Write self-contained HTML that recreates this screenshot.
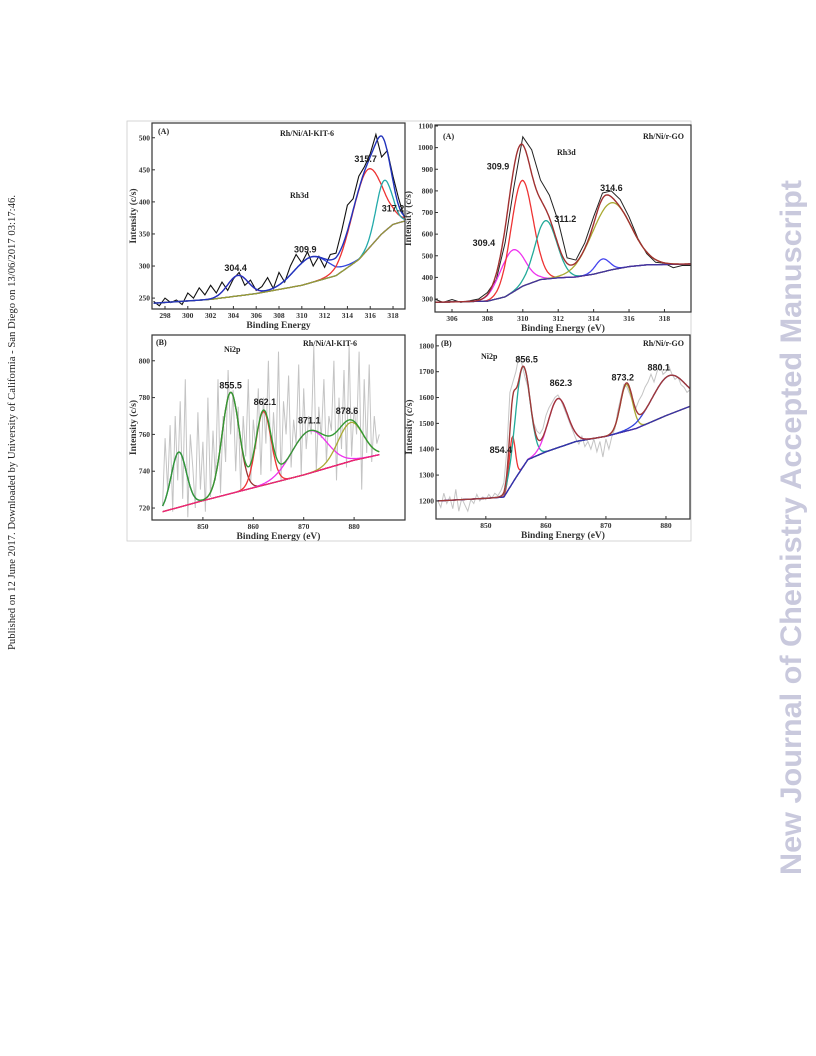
<!DOCTYPE html>
<html><head><meta charset="utf-8">
<style>
html,body{margin:0;padding:0;background:#fff;}
#root{position:relative;width:816px;height:1056px;overflow:hidden;}
svg text{font-family:"Liberation Serif",serif;}
</style></head>
<body><div id="root">
<svg id="fig" width="816" height="1056" viewBox="0 0 816 1056">
<text transform="translate(15,650) rotate(-90)" font-size="10" fill="#222" textLength="455" lengthAdjust="spacingAndGlyphs">Published on 12 June 2017. Downloaded by University of California - San Diego on 13/06/2017 03:17:46.</text>
<text transform="translate(801,875) rotate(-90)" font-size="30" font-weight="bold" fill="#c9c9dd" style="font-family:'Liberation Sans',sans-serif" textLength="695" lengthAdjust="spacingAndGlyphs">New Journal of Chemistry Accepted Manuscript</text>
<rect x="127" y="121" width="564" height="420" fill="none" stroke="#ccc" stroke-width="0.8"/>
<g id="panels"></g>
</svg>
</div>
<script>
// ---------- Panel A1: Rh3d Rh/Ni/Al-KIT-6 ----------
const a1RawX = [297,297.5,298,298.5,299,299.5,300,300.5,301,301.5,302,302.5,303,303.5,304,304.5,305,305.5,306,306.5,307,307.5,308,308.5,309,309.5,310,310.5,311,311.5,312,312.5,313,313.5,314,314.5,315,315.5,316,316.5,317,317.5,318,318.5,319];
const a1RawY = [245,238,250,243,247,240,258,250,266,255,270,258,275,262,280,290,270,278,262,268,282,265,290,275,300,318,305,322,300,315,298,318,320,355,395,405,440,455,475,505,470,480,440,405,375];
const a1BgX = [297,302,306,310,313,315,316,317,318,319];
const a1BgY = [242,248,257,270,285,310,330,350,365,370];
const a1Centers = [304.4,310.8,315.7,317.2];
const a1Heights = [32,40,125,80];
const a1Sigmas = [0.9,1.5,1.3,0.7];
const a1Colors = ['#cc33cc','#3344dd','#ee3333','#22aaaa'];
const a1XTicks = [298,300,302,304,306,308,310,312,314,316,318];
const a1YTicks = [250,300,350,400,450,500];
const a1PeakLabels = ['304.4','309.9','315.7','317.2'];
const a1PeakLabelX = [304.2,310.3,315.6,318.0];
const a1PeakLabelY = [292,321,462,385];

// ---------- Panel A2: Rh3d Rh/Ni/r-GO ----------
const a2RawX = [305,305.5,306,306.5,307,307.5,308,308.5,309,309.5,310,310.5,311,311.5,312,312.5,313,313.5,314,314.5,315,315.5,316,316.5,317,317.5,318,318.5,319,319.5];
const a2RawY = [300,285,298,285,292,300,330,390,560,820,1050,990,850,780,660,490,480,560,680,790,800,760,680,580,510,470,465,445,455,455];
const a2BgX = [305,308,309,310,311,312,313,314,315,316,317,319.5];
const a2BgY = [285,290,310,360,390,398,402,415,435,450,458,462];
const a2Centers = [309.4,309.95,311.3,314.5,315.0];
const a2Heights = [195,490,270,60,310];
const a2Sigmas = [0.7,0.62,0.62,0.4,1.1];
const a2Colors = ['#ee33ee','#ee3333','#22aa99','#4444ee','#aaaa33'];
const a2XTicks = [306,308,310,312,314,316,318];
const a2YTicks = [300,400,500,600,700,800,900,1000,1100];
const a2PeakLabels = ['309.9','309.4','311.2','314.6'];
const a2PeakLabelX = [308.6,307.8,312.4,315.0];
const a2PeakLabelY = [900,545,655,800];

// ---------- Panel B1: Ni2p Rh/Ni/Al-KIT-6 ----------
const b1RawX = [842,842.5,843,843.5,844,844.5,845,845.5,846,846.5,847,847.5,848,848.5,849,849.5,850,850.5,851,851.5,852,852.5,853,853.5,854,854.5,855,855.5,856,856.5,857,857.5,858,858.5,859,859.5,860,860.5,861,861.5,862,862.5,863,863.5,864,864.5,865,865.5,866,866.5,867,867.5,868,868.5,869,869.5,870,870.5,871,871.5,872,872.5,873,873.5,874,874.5,875,875.5,876,876.5,877,877.5,878,878.5,879,879.5,880,880.5,881,881.5,882,882.5,883,883.5,884,884.5,885];
const b1RawY = [722,758,730,765,718,770,735,778,725,790,715,760,742,720,772,730,756,718,780,726,762,735,790,728,770,745,795,760,784,740,775,730,770,748,790,735,768,752,785,738,780,755,800,740,772,748,805,735,778,760,792,742,768,755,798,738,785,752,770,760,808,740,775,758,790,745,770,762,800,735,780,752,795,742,808,748,775,760,805,730,790,750,798,745,770,755,760];
const b1BgX = [842,850,860,870,880,885];
const b1BgY = [718,724,731,738,746,749];
const b1Centers = [845.2,855.5,862.0,871.1,879.3];
const b1Heights = [30,55,40,23,21];
const b1Sigmas = [1.5,1.7,1.5,3.5,2.5];
const b1Colors = ['#3344dd','#993333','#ee3333','#ee33ee','#aaaa33'];
const b1XTicks = [850,860,870,880];
const b1YTicks = [720,740,760,780,800];
const b1PeakLabels = ['855.5','862.1','871.1','878.6'];
const b1PeakLabelX = [855.5,862.3,871.1,878.6];
const b1PeakLabelY = [785,776,766,771];

// ---------- Panel B2: Ni2p Rh/Ni/r-GO ----------
const b2RawX = [842,842.5,843,843.5,844,844.5,845,845.5,846,846.5,847,847.5,848,848.5,849,849.5,850,850.5,851,851.5,852,852.5,853,853.5,854,854.5,855,855.5,856,856.5,857,857.5,858,858.5,859,859.5,860,860.5,861,861.5,862,862.5,863,863.5,864,864.5,865,865.5,866,866.5,867,867.5,868,868.5,869,869.5,870,870.5,871,871.5,872,872.5,873,873.5,874,874.5,875,875.5,876,876.5,877,877.5,878,878.5,879,879.5,880,880.5,881,881.5,882,882.5,883,883.5,884,884.5,885];
const b2RawY = [1200,1175,1230,1190,1215,1170,1245,1160,1210,1185,1160,1205,1190,1225,1200,1215,1205,1225,1210,1230,1220,1240,1270,1400,1620,1660,1700,1760,1730,1680,1640,1560,1500,1470,1460,1480,1530,1560,1580,1600,1610,1590,1560,1530,1500,1470,1440,1420,1450,1410,1430,1400,1440,1390,1430,1370,1440,1400,1450,1480,1550,1600,1650,1640,1610,1580,1560,1590,1610,1640,1660,1690,1660,1700,1730,1690,1700,1720,1690,1670,1680,1650,1640,1620,1630,1600,1600];
const b2BgX = [842,850,853,855,857,860,865,870,875,880,885];
const b2BgY = [1200,1210,1215,1290,1360,1390,1430,1450,1480,1530,1575];
const b2Centers = [854.4,856.1,862.0,873.4,880.5];
const b2Heights = [180,390,190,180,150];
const b2Sigmas = [0.5,1.2,1.6,1.0,2.8];
const b2Colors = ['#ee3333','#22aa99','#ee33ee','#aaaa33','#3344dd'];
const b2XTicks = [850,860,870,880];
const b2YTicks = [1200,1300,1400,1500,1600,1700,1800];
const b2PeakLabels = ['856.5','854.4','862.3','873.2','880.1'];
const b2PeakLabelX = [856.8,852.5,862.5,872.8,878.8];
const b2PeakLabelY = [1735,1385,1645,1665,1705];

const NS = 'http://www.w3.org/2000/svg';
const root = document.getElementById('panels');
function mk(tag, attrs, parent){ const e=document.createElementNS(NS,tag); for(const k in attrs) e.setAttribute(k,attrs[k]); (parent||root).appendChild(e); return e; }
function interp(xs, ys, x){
  if(x<=xs[0]) return ys[0];
  for(let i=1;i<xs.length;i++){ if(x<=xs[i]){ const t=(x-xs[i-1])/(xs[i]-xs[i-1]); return ys[i-1]+t*(ys[i]-ys[i-1]); } }
  return ys[ys.length-1];
}
function gauss(x,c,h,s){ return h*Math.exp(-(x-c)*(x-c)/(2*s*s)); }

function panel(cfg){
  const g = mk('g',{});
  
  
  const L=cfg.box[0], T=cfg.box[1], R=cfg.box[2], B=cfg.box[3];
  const sx = v => L + (v-cfg.xd[0])/(cfg.xd[1]-cfg.xd[0])*(R-L);
  const sy = v => B - (v-cfg.yd[0])/(cfg.yd[1]-cfg.yd[0])*(B-T);
  const clipId = 'clip'+cfg.name;
  const cp = mk('clipPath',{id:clipId},g); mk('rect',{x:L,y:T,width:R-L,height:B-T},cp);
  const plot = mk('g',{'clip-path':'url(#'+clipId+')'},g);
  
  
  let d=''; cfg.rawX.forEach((x,i)=>{ d+=(i?'L':'M')+sx(x).toFixed(1)+','+sy(cfg.rawY[i]).toFixed(1); });
  const raw = mk('path',{d:d,fill:'none',stroke:cfg.rawColor,'stroke-width':cfg.rawW},plot);
  
  
  const x0=cfg.fitRange[0], x1=cfg.fitRange[1], N=300;
  const xs=[]; for(let i=0;i<=N;i++) xs.push(x0+(x1-x0)*i/N);
  cfg.centers.forEach((c,k)=>{
    let p=''; xs.forEach((x,i)=>{ const y=interp(cfg.bgX,cfg.bgY,x)+gauss(x,c,cfg.heights[k],cfg.sigmas[k]); p+=(i?'L':'M')+sx(x).toFixed(1)+','+sy(y).toFixed(1); });
    const e = mk('path',{d:p,fill:'none',stroke:cfg.colors[k],'stroke-width':1.3},plot);
    
    
  });
  let bp=''; xs.forEach((x,i)=>{ bp+=(i?'L':'M')+sx(x).toFixed(1)+','+sy(interp(cfg.bgX,cfg.bgY,x)).toFixed(1); });
  const bg = mk('path',{d:bp,fill:'none',stroke:cfg.bgColor,'stroke-width':1.3},plot);
  
  
  let ep=''; xs.forEach((x,i)=>{ let y=interp(cfg.bgX,cfg.bgY,x); cfg.centers.forEach((c,k)=>{y+=gauss(x,c,cfg.heights[k],cfg.sigmas[k]);}); ep+=(i?'L':'M')+sx(x).toFixed(1)+','+sy(y).toFixed(1); });
  const env = mk('path',{d:ep,fill:'none',stroke:cfg.envColor,'stroke-width':1.4},plot);
  
  
  const fr = mk('rect',{x:L,y:T,width:R-L,height:B-T,fill:'none',stroke:'#333','stroke-width':1.2},g);
  
  
  cfg.xTicks.forEach(v=>{
    mk('line',{x1:sx(v),x2:sx(v),y1:B,y2:B-3,stroke:'#333'},g);
    const t = mk('text',{x:sx(v),y:B+9,'font-size':7.5,'font-weight':'bold','text-anchor':'middle',fill:'#333'},g);
    t.textContent=v;
    
    
  });
  cfg.yTicks.forEach(v=>{
    mk('line',{x1:L,x2:L+3,y1:sy(v),y2:sy(v),stroke:'#333'},g);
    const t = mk('text',{x:L-2,y:sy(v)+2.5,'font-size':7.5,'font-weight':'bold','text-anchor':'end',fill:'#333'},g);
    t.textContent=v;
    
    
  });
  cfg.plabels.forEach((s,i)=>{
    const t = mk('text',{x:sx(cfg.plX[i]),y:sy(cfg.plY[i]),'font-size':9,'font-weight':'bold','text-anchor':'middle',fill:'#222',style:"font-family:'Liberation Sans',sans-serif"},g);
    t.textContent=s;
    
    
  });
  const xt = mk('text',{x:(L+R)/2,y:B+19,'font-size':9.5,'font-weight':'bold','text-anchor':'middle',fill:'#333'},g);
  xt.textContent=cfg.xTitle;
  
  
  const yt = mk('text',{transform:'translate('+(cfg.yTitleX)+','+((T+B)/2)+') rotate(-90)','font-size':9.5,'font-weight':'bold','text-anchor':'middle',fill:'#333'},g);
  yt.textContent='Intensity (c/s)';
  
  
  cfg.texts.forEach(tx=>{
    const t = mk('text',{x:tx[0],y:tx[1],'font-size':8,'font-weight':'bold','text-anchor':tx[3]||'start',fill:'#222'},g);
    t.textContent=tx[2];
    
    
  });
}

panel({name:'panel-a-kit6',box:[152,123,405,309],xd:[296.86,319.05],yd:[233,523],
  rawX:a1RawX,rawY:a1RawY,rawColor:'#111',rawW:1.1,bgX:a1BgX,bgY:a1BgY,centers:a1Centers,heights:a1Heights,sigmas:a1Sigmas,colors:a1Colors,
  bgColor:'#999933',envColor:'#2233bb',fitRange:[297,319],xTicks:a1XTicks,yTicks:a1YTicks,plabels:a1PeakLabels,plX:a1PeakLabelX,plY:a1PeakLabelY,
  xTitle:'Binding Energy',yTitleX:136,texts:[[158,134,'(A)','start','panel-letter'],[280,136,'Rh/Ni/Al-KIT-6','start','sample-title'],[290,198,'Rh3d','start','region-label']]});
panel({name:'panel-a-rgo',box:[435,125,691,312],xd:[305.04,319.5],yd:[240,1104.6],
  rawX:a2RawX,rawY:a2RawY,rawColor:'#222',rawW:1.0,bgX:a2BgX,bgY:a2BgY,centers:a2Centers,heights:a2Heights,sigmas:a2Sigmas,colors:a2Colors,
  bgColor:'#443399',envColor:'#a03030',fitRange:[305,319.5],xTicks:a2XTicks,yTicks:a2YTicks,plabels:a2PeakLabels,plX:a2PeakLabelX,plY:a2PeakLabelY,
  xTitle:'Binding Energy (eV)',yTitleX:411,texts:[[443,139,'(A)','start','panel-letter'],[684,139,'Rh/Ni/r-GO','end','sample-title'],[557,155,'Rh3d','start','region-label']]});
panel({name:'panel-b-kit6',box:[152,335,405,520],xd:[839.9,890.1],yd:[713.5,814],
  rawX:b1RawX,rawY:b1RawY,rawColor:'#c4c4c4',rawW:1.0,bgX:b1BgX,bgY:b1BgY,centers:b1Centers,heights:b1Heights,sigmas:b1Sigmas,colors:b1Colors,
  bgColor:'#ee2277',envColor:'#339933',fitRange:[842,885],xTicks:b1XTicks,yTicks:b1YTicks,plabels:b1PeakLabels,plX:b1PeakLabelX,plY:b1PeakLabelY,
  xTitle:'Binding Energy (eV)',yTitleX:136,texts:[[156,345,'(B)','start','panel-letter'],[303,346,'Rh/Ni/Al-KIT-6','start','sample-title'],[224,352,'Ni2p','start','region-label']]});
panel({name:'panel-b-rgo',box:[436,335,690,519],xd:[841.7,884],yd:[1130,1842],
  rawX:b2RawX,rawY:b2RawY,rawColor:'#c4c4c4',rawW:1.0,bgX:b2BgX,bgY:b2BgY,centers:b2Centers,heights:b2Heights,sigmas:b2Sigmas,colors:b2Colors,
  bgColor:'#3333aa',envColor:'#a03838',fitRange:[842,885],xTicks:b2XTicks,yTicks:b2YTicks,plabels:b2PeakLabels,plX:b2PeakLabelX,plY:b2PeakLabelY,
  xTitle:'Binding Energy (eV)',yTitleX:412,texts:[[441,346,'(B)','start','panel-letter'],[684,346,'Rh/Ni/r-GO','end','sample-title'],[481,359,'Ni2p','start','region-label']]});
</script>
</body></html>
